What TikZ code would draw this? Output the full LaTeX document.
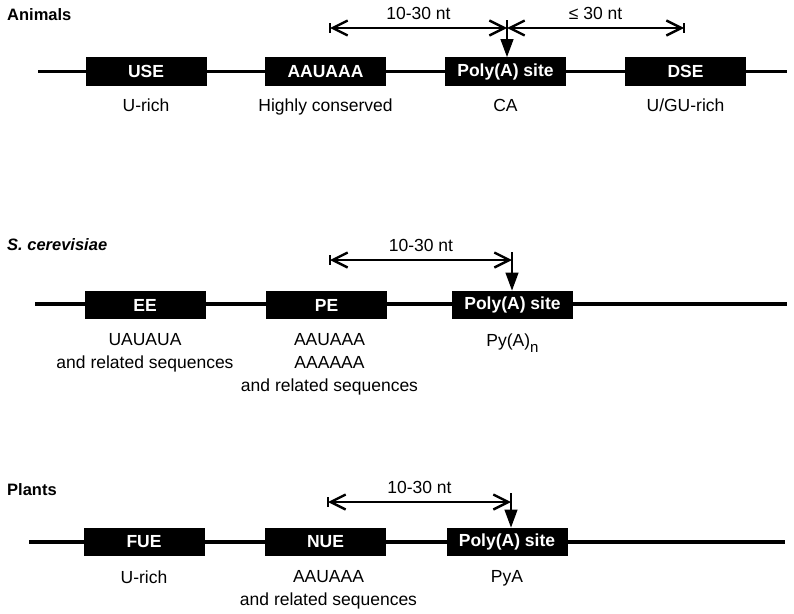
\documentclass[tikz,border=0pt]{standalone}
\usepackage{fontspec}
\setmainfont{Liberation Sans}
\newcommand\lblfont{\fontsize{17.5}{23}\selectfont}
\newcommand\spfont{\fontsize{16.5}{20}\selectfont}
\newcommand\lowsub[1]{\raisebox{-6pt}{\fontsize{15}{15}\selectfont #1}}
\usetikzlibrary{positioning,arrows.meta}
\tikzset{
    element/.style={rectangle,fill=black,text=white,font=\lblfont\bfseries,minimum width=121pt,minimum height=28.5pt,inner sep=0pt},
    motif/.style={text centered,align=center,font=\lblfont,inner sep=0pt},
    species/.style={anchor=west,inner sep=0pt,font=\spfont\bfseries},
    gaplabel/.style={font=\lblfont,inner sep=0pt,text depth=0pt},
    strand/.style={line width=3.2pt},
    gapspan/.style={line width=1.3pt,{Straight Barb[length=15pt,width=15pt,line width=2.4pt]}-{Straight Barb[length=15pt,width=15pt,line width=2.4pt]}},
    cleavage/.style={line width=1.3pt,-{Triangle[length=18pt,width=13pt]}},
    endbar/.style={line width=1.3pt},
}

\begin{document}
\begin{tikzpicture}[x=1pt,y=-1pt]
\useasboundingbox (0,0) rectangle (794,613);
% animals
\node[species](tAn) at (7,15) {Animals};
\coordinate (aS) at (38,71.5);
\coordinate (aE) at (787,71.5);
\draw[strand] (aS) -- (aE);
\node[element](use) at (146,71.5) {USE};
\node[element](aauaaa) at (325.5,71.5) {AAUAAA};
\node[element](pasA) at (505.5,71.5) {Poly(A) site};
\node[element](dse) at (685.5,71.5) {DSE};
\node[motif](lUse) [below =13pt of use] {U-rich};
\node[motif](lAau) [below =13pt of aauaaa] {Highly conserved};
\node[motif](lPasA) [below =13pt of pasA] {CA};
\node[motif](lDse) [below =13pt of dse] {U/GU-rich};
\coordinate (aL) at (330,28);
\coordinate (aM) at (507,28);
\coordinate (aR) at (684,28);
\coordinate (aTop) at (507,20);
\draw[gapspan] (aL) -- (aM) node[gaplabel,midway,above=8pt] {10-30 nt};
\draw[gapspan] (aM) -- (aR) node[gaplabel,midway,above=8pt] {≤ 30 nt};
\draw[endbar] (aL) ++(0,-5) -- ++(0,10);
\draw[endbar] (aR) ++(0,-5) -- ++(0,10);
\draw[cleavage] (aTop) -- (aTop |- pasA.north);
% yeast
\node[species](tSc) at (7,245) {\itshape S. cerevisiae};
\coordinate (sS) at (35,304);
\coordinate (sE) at (787,304);
\draw[strand] (sS) -- (sE);
\node[element](ee) at (145,305) {EE};
\node[element](pe) at (326.5,305) {PE};
\node[element](pasS) at (512.5,305) {Poly(A) site};
\node[motif](lEe) [below =14pt of ee] {UAUAUA\\and related sequences};
\node[motif](lPe) [below =14pt of pe,xshift=3pt] {AAUAAA\\AAAAAA\\and related sequences};
\node[motif](lPasS) [below =14pt of pasS] {Py(A)\lowsub{n}};
\coordinate (sL) at (330,260);
\coordinate (sM) at (512,260);
\coordinate (sTop) at (512,252);
\draw[gapspan] (sL) -- (sM) node[gaplabel,midway,above=8pt] {10-30 nt};
\draw[endbar] (sL) ++(0,-5) -- ++(0,10);
\draw[cleavage] (sTop) -- (sTop |- pasS.north);
% plants
\node[species](tPl) at (7,490) {Plants};
\coordinate (pS) at (29,542);
\coordinate (pE) at (785,542);
\draw[strand] (pS) -- (pE);
\node[element](fue) at (144,542) {FUE};
\node[element](nue) at (325.5,542) {NUE};
\node[element](pasP) at (507,542) {Poly(A) site};
\node[motif](lFue) [below =14pt of fue] {U-rich};
\node[motif](lNue) [below =14pt of nue,xshift=3pt] {AAUAAA\\and related sequences};
\node[motif](lPasP) [below =14pt of pasP] {PyA};
\coordinate (pL) at (328,502);
\coordinate (pM) at (511,502);
\coordinate (pTop) at (511,493);
\draw[gapspan] (pL) -- (pM) node[gaplabel,midway,above=8pt] {10-30 nt};
\draw[endbar] (pL) ++(0,-5) -- ++(0,10);
\draw[cleavage] (pTop) -- (pTop |- pasP.north);
\end{tikzpicture}
\end{document}
